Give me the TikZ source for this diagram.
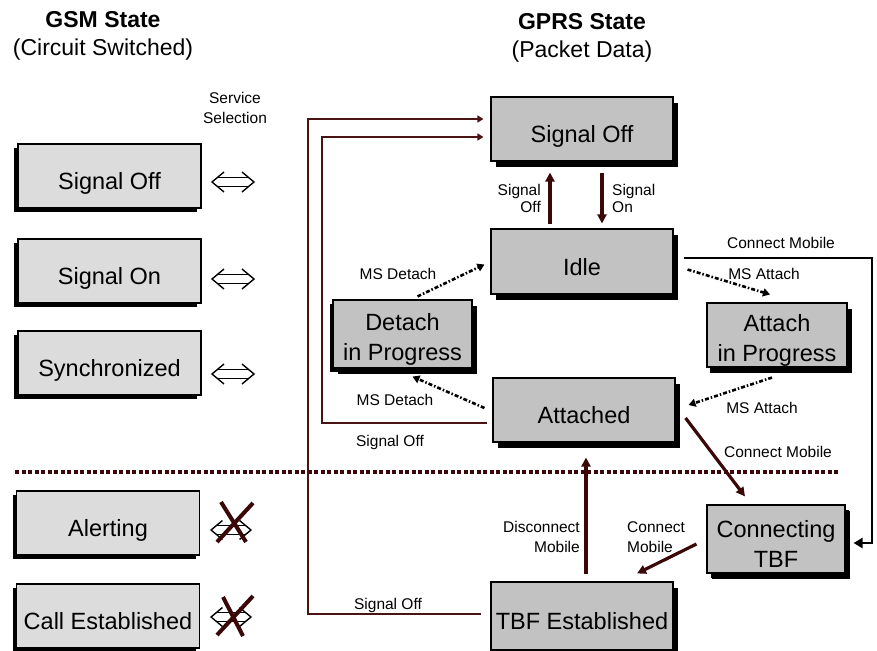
\documentclass[tikz,border=0pt]{standalone}
\usepackage{fontspec}
\setmainfont{Liberation Sans}
\usetikzlibrary{arrows.meta,calc,shadows}
\definecolor{conncol}{HTML}{3A0808}
\definecolor{loopcol}{HTML}{4A1414}
\definecolor{gsmfill}{HTML}{DCDCDC}
\definecolor{gprsfill}{HTML}{C2C2C2}
\newcommand{\topstrut}{\rule{0pt}{27pt}}
\begin{document}
\begin{tikzpicture}[x=1pt,y=-1pt,
  boxtext/.style={font=\fontsize{23.5}{30}\selectfont, inner sep=0pt},
  gsmbox/.style={boxtext, draw=black, line width=1.1pt, fill=gsmfill,
    minimum width=183pt, minimum height=64pt, text height=27pt, text depth=0pt,
    drop shadow={shadow xshift=-4pt, shadow yshift=-4pt, fill=black, opacity=1}},
  gprsbox/.style={boxtext, draw=black, line width=1.1pt, fill=gprsfill,
    drop shadow={shadow xshift=5pt, shadow yshift=-6pt, fill=black, opacity=1}},
  oneline/.style={text height=27pt, text depth=0pt},
  twoline/.style={align=center},
  lbl/.style={font=\fontsize{15.5}{18}\selectfont, inner sep=0pt},
  title/.style={font=\fontsize{23}{28}\selectfont, align=center, inner sep=0pt},
  conn/.style={draw=conncol, line width=3.2pt, -{Triangle[length=9pt,width=9pt]}},
  loopline/.style={draw=loopcol, line width=2.2pt, -{Triangle[length=6pt,width=7pt]}},
  blackconn/.style={draw=black, line width=2.6pt, -{Triangle[length=9pt,width=10pt]}},
  dotconn/.style={draw=black, line width=2.6pt, dash pattern=on 4pt off 2pt on 1.5pt off 2pt,
    -{Triangle[length=7pt,width=8pt]}},
  divider/.style={draw=conncol, line width=3.2pt, dash pattern=on 4pt off 2.5pt},
  dblarrow/.pic={
    \draw[line width=1.4pt, line join=miter] (-9,-10) -- (-21,0) -- (-9,10);
    \draw[line width=1.4pt, line join=miter] (9,-10) -- (21,0) -- (9,10);
    \draw[line width=1.4pt] (-15.6,-4.5) -- (15.6,-4.5) (-15.6,4.5) -- (15.6,4.5);
  },
  crossx/.style={draw=conncol, line width=4pt}
]
\fill[white] (0,0) rectangle (877,650);
\useasboundingbox (0,0) rectangle (877,650);

% titles
\node[title] (gsmtitle) at (103,36) {\textbf{GSM State}\\(Circuit Switched)};
\node[title] (gprstitle) at (582,38) {\textbf{GPRS State}\\(Packet Data)};
\node[lbl, align=center, font=\fontsize{15.5}{20}\selectfont] (servsel) at (235,108) {Service\\Selection};

% GSM boxes
\node[gsmbox] (gOff)  at (109.5,176) {Signal Off};
\node[gsmbox] (gOn)   at (109.5,271) {Signal On};
\node[gsmbox] (gSync) at (109.5,363) {Synchronized};
\node[gsmbox] (gAlert) at (108,523) {Alerting};
\node[gsmbox] (gCall) at (108,616) {Call Established};

% double arrows
\pic at (233,182) {dblarrow};
\pic at (233,279) {dblarrow};
\pic at (233,374) {dblarrow};
\pic[scale=0.95] at (231,530) {dblarrow};
\pic[scale=0.95] at (231,617) {dblarrow};
\draw[crossx] (221,502) -- (246,542) (253,503) -- (217,542);
\draw[crossx] (223,597) -- (243,636) (253,596) -- (217,635);

% divider
\coordinate (divL) at (15,472);
\coordinate (divR) at (840,472);
\draw[divider] (divL) -- (divR);

% GPRS boxes
\node[gprsbox, oneline, minimum width=182pt, minimum height=64pt] (pOff) at (582,129) {Signal Off};
\node[gprsbox, oneline, minimum width=182pt, minimum height=65pt] (Idle) at (582,261.5) {Idle};
\node[gprsbox, twoline, minimum width=139pt, minimum height=68pt,
  drop shadow={shadow xshift=-3pt, shadow yshift=-4pt, fill=black, opacity=1}] (Detach) at (402.5,334) {\topstrut Detach\\in Progress};
\node[gprsbox, twoline, minimum width=140pt, minimum height=64pt,
  drop shadow={shadow xshift=3pt, shadow yshift=-6pt, fill=black, opacity=1}] (Attach) at (777,335) {\topstrut Attach\\in Progress};
\node[gprsbox, oneline, minimum width=182pt, minimum height=64pt] (Attached) at (584,410) {Attached};
\node[gprsbox, twoline, minimum width=138pt, minimum height=68pt,
  drop shadow={shadow xshift=4pt, shadow yshift=-5pt, fill=black, opacity=1}] (ConnTBF) at (776,539) {\topstrut Connecting\\TBF};
\node[gprsbox, oneline, minimum width=182pt, minimum height=68pt] (TBFest) at (582,616) {TBF Established};

% connectors
\draw[conn] ($(pOff.south)+(20,11)$) -- ($(Idle.north)+(20,-5)$);
\draw[conn] ($(Idle.north)+(-32,-4)$) -- ($(pOff.south)+(-32,11)$);
\node[lbl, anchor=east, align=right, font=\fontsize{15.5}{17}\selectfont] (lSigOff) at (541,198) {Signal\\Off};
\node[lbl, anchor=west, align=left, font=\fontsize{15.5}{17}\selectfont] (lSigOn) at (612,198) {Signal\\On};

\draw[dotconn] ($(Detach.north)+(15,-3)$) -- ($(Idle.west)+(-6,3)$);
\node[lbl] (lDet1) at (398,274) {MS Detach};
\draw[dotconn] ($(Attached.west)+(-8,-2)$) -- ($(Detach.south)+(10,8)$);
\node[lbl] (lDet2) at (395,400) {MS Detach};
\draw[dotconn] ($(Idle.east)+(14,8)$) -- ($(Attach.north)+(-7,-8)$);
\node[lbl] (lAtt1) at (764,274) {MS Attach};
\draw[dotconn] ($(Attach.south)+(-5,10)$) -- ($(Attached.east)+(13,-5)$);
\node[lbl] (lAtt2) at (762,408) {MS Attach};

\coordinate (cmR) at (872,400);
\draw[blackconn] ($(Idle.east)+(10,-3.5)$) -| (cmR) |- ($(ConnTBF.east)+(8,4)$);
\node[lbl] (lCM1) at (781,243) {Connect Mobile};

\draw[conn] ($(Attached.east)+(10,8)$) -- ($(ConnTBF.north)+(-31,-8)$);
\node[lbl] (lCM2) at (778,452) {Connect Mobile};

\draw[conn] ($(ConnTBF.west)+(-10,5)$) -- ($(TBFest.north)+(55,-8)$);
\node[lbl, anchor=west, align=left, font=\fontsize{15.5}{20}\selectfont] (lCM3) at (627,537) {Connect\\Mobile};

\draw[conn] ($(TBFest.north)+(4,-7)$) -- ($(Attached.south)+(2,15)$);
\node[lbl, anchor=east, align=right, font=\fontsize{15.5}{20}\selectfont] (lDisc) at (580,537) {Disconnect\\Mobile};

\coordinate (innerL) at (322,300);
\coordinate (outerL) at (308,300);
\draw[loopline] ($(Attached.west)+(-5,13)$) -| (innerL) |- ($(pOff.west)+(-7,8)$);
\node[lbl] (lSO1) at (390,442) {Signal Off};
\draw[loopline] ($(TBFest.west)+(-9,-2)$) -| (outerL) |- ($(pOff.west)+(-7,-10)$);
\node[lbl] (lSO2) at (388,605) {Signal Off};
\end{tikzpicture}
\end{document}
